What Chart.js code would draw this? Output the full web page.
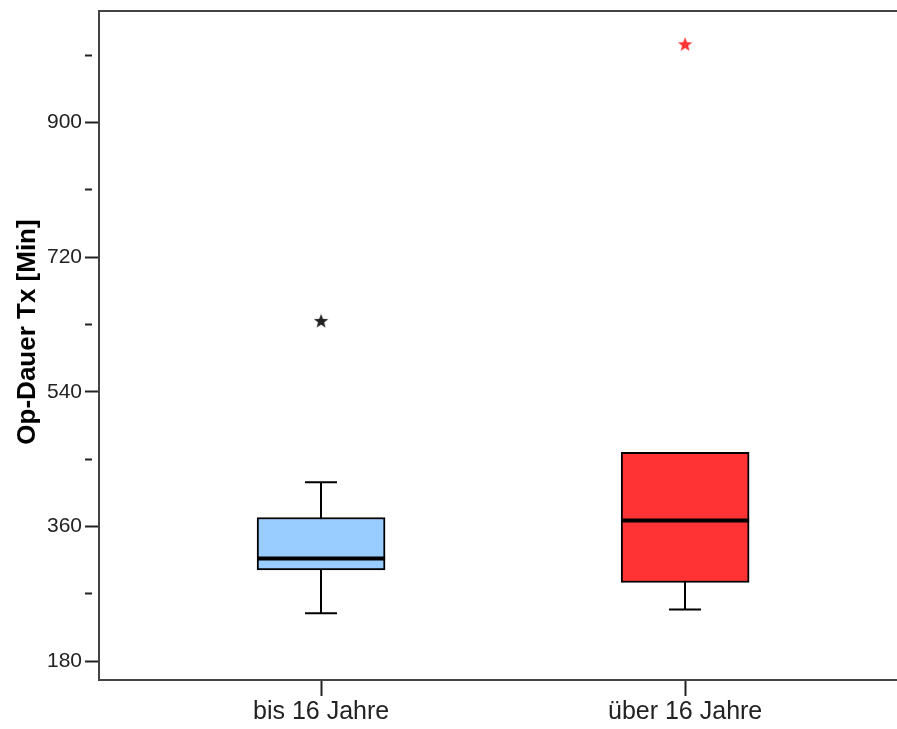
<!DOCTYPE html>
<html>
<head>
<meta charset="utf-8">
<script src="https://cdn.jsdelivr.net/npm/chart.js@4"></script>
<style>
  body { margin: 0; background: #fff; }
</style>
</head>
<body>
<canvas id="chart" width="897" height="729"></canvas>
<script>
// Op-Dauer je Altersgruppe (Minuten)
const categories = ["bis 16 Jahre", "über 16 Jahre"];
const catPos = [1, 2];
const whiskerLow = [244, 249];
const q1 = [302, 285];
const median = [317, 368];
const q3 = [372, 459];
const whiskerHigh = [419, 459];
const outlierCat = [1, 2];
const outlierVal = [635, 1005];
const boxColors = ["#99CCFF", "#FF3333"];
const starColors = ["#222222", "#FF3333"];
const majorTicks = [180, 360, 540, 720, 900];
const yTitle = "Op-Dauer Tx [Min]";

// kleiner gefuellter Stern als Punktsymbol
function makeStar(color) {
  const c = document.createElement("canvas");
  c.width = 16; c.height = 16;
  const g = c.getContext("2d");
  g.fillStyle = color;
  g.beginPath();
  for (let i = 0; i < 10; i++) {
    const r = i % 2 ? 3.2 : 7.6;
    const a = -Math.PI / 2 + i * Math.PI / 5;
    g.lineTo(8 + r * Math.cos(a), 8.5 + r * Math.sin(a));
  }
  g.closePath();
  g.fill();
  return c;
}

const boxLines = {
  id: "boxLines",
  beforeDatasetsDraw(chart) {
    const ctx = chart.ctx, x = chart.scales.x, y = chart.scales.y;
    ctx.save();
    ctx.strokeStyle = "#000";
    ctx.lineWidth = 2;
    catPos.forEach((p, i) => {
      const cx = Math.round(x.getPixelForValue(p));
      const lo = y.getPixelForValue(whiskerLow[i]);
      const hi = y.getPixelForValue(whiskerHigh[i]);
      ctx.beginPath();
      ctx.moveTo(cx, lo); ctx.lineTo(cx, hi);
      ctx.moveTo(cx - 16, lo); ctx.lineTo(cx + 16, lo);
      if (whiskerHigh[i] > q3[i]) { ctx.moveTo(cx - 16, hi); ctx.lineTo(cx + 16, hi); }
      ctx.stroke();
    });
    ctx.restore();
  },
  afterDatasetsDraw(chart) {
    const ctx = chart.ctx, y = chart.scales.y;
    const bars = chart.getDatasetMeta(0).data;
    ctx.save();
    ctx.strokeStyle = "#000";
    ctx.lineWidth = 4;
    bars.forEach((bar, i) => {
      const m = y.getPixelForValue(median[i]);
      ctx.beginPath();
      ctx.moveTo(bar.x - bar.width / 2, m);
      ctx.lineTo(bar.x + bar.width / 2, m);
      ctx.stroke();
    });
    // obere Rahmenlinie
    const a = chart.chartArea;
    ctx.strokeStyle = "#444";
    ctx.lineWidth = 2;
    ctx.beginPath();
    ctx.moveTo(a.left - 1, a.top);
    ctx.lineTo(chart.width, a.top);
    ctx.stroke();
    // Achsentitel links, gedreht
    ctx.translate(28, 332);
    ctx.rotate(-Math.PI / 2);
    ctx.fillStyle = "#000";
    ctx.font = "bold 26px 'Liberation Sans'";
    ctx.textAlign = "center";
    ctx.textBaseline = "middle";
    ctx.fillText(yTitle, 0, 0);
    ctx.restore();
  }
};

new Chart(document.getElementById("chart"), {
  type: "bar",
  data: {
    datasets: [
      {
        data: catPos.map((p, i) => ({ x: p, y: [q1[i], q3[i]] })),
        backgroundColor: boxColors,
        borderColor: "#000",
        borderWidth: 2,
        borderSkipped: false,
        barThickness: 128,
        order: 2
      },
      {
        type: "scatter",
        data: outlierCat.map((p, i) => ({ x: p, y: outlierVal[i] })),
        pointStyle: outlierCat.map((p, i) => makeStar(starColors[i])),
        order: 1
      }
    ]
  },
  options: {
    responsive: false,
    animation: false,
    layout: { autoPadding: false, padding: { top: 11, right: 0, left: 0, bottom: 0 } },
    plugins: { legend: { display: false }, tooltip: { enabled: false } },
    scales: {
      x: {
        type: "linear",
        offset: false,
        min: 0.39,
        max: 2.582,
        afterBuildTicks: (s) => { s.ticks = catPos.map(v => ({ value: v })); },
        afterFit: (s) => { s.height = 49; s.paddingLeft = 0; s.paddingRight = 0; },
        grid: { offset: false, drawOnChartArea: false, tickLength: 16, tickWidth: 2, tickColor: "#222" },
        border: { color: "#444", width: 2 },
        ticks: {
          callback: (v) => categories[catPos.indexOf(v)],
          font: { family: "Liberation Sans", size: 25 },
          color: "#222",
          padding: 1,
          maxRotation: 0
        }
      },
      y: {
        min: 154.6,
        max: 1049.4,
        afterBuildTicks: (s) => {
          const t = [];
          for (let v = 180; v <= 990; v += 90) t.push({ value: v });
          s.ticks = t;
        },
        afterFit: (s) => { s.width = 99; s.paddingTop = 0; s.paddingBottom = 0; },
        grid: {
          drawOnChartArea: false,
          tickLength: 14,
          tickWidth: 2,
          tickColor: "#222",
          tickBorderDash: (c) => majorTicks.includes(c.tick.value) ? [] : [7, 20]
        },
        border: { color: "#444", width: 2 },
        ticks: {
          callback: (v) => majorTicks.includes(v) ? v : "",
          font: { family: "Liberation Sans", size: 21 },
          color: "#222",
          padding: 3
        }
      }
    }
  },
  plugins: [boxLines]
});
</script>
</body>
</html>
